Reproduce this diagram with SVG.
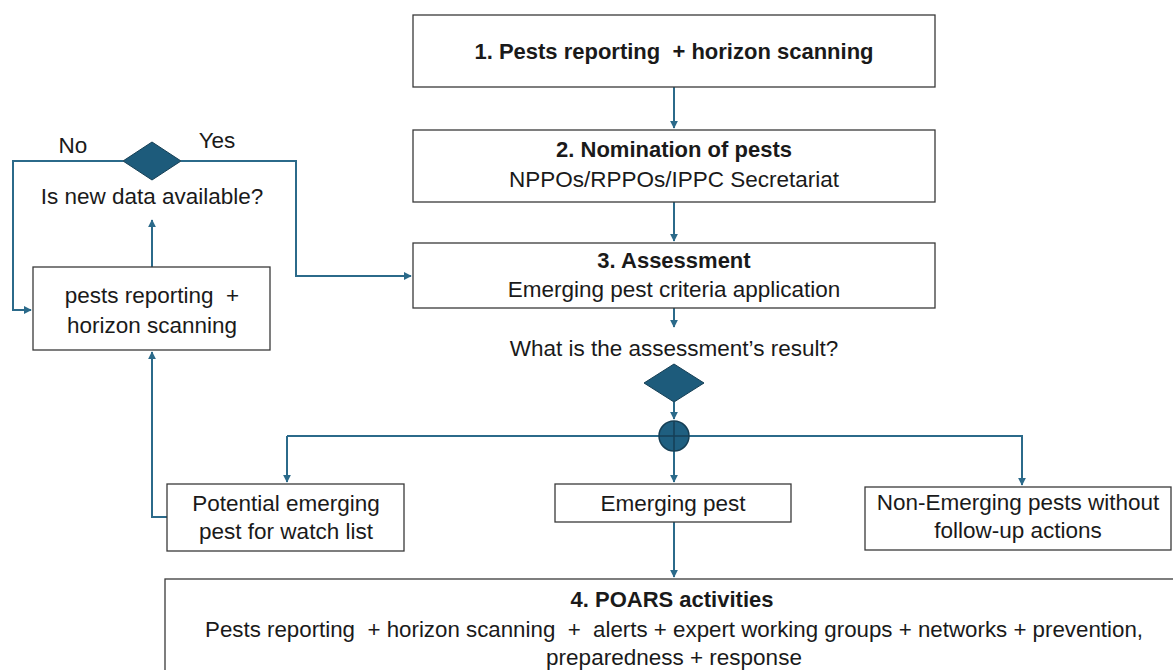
<svg xmlns="http://www.w3.org/2000/svg" width="1173" height="670" viewBox="0 0 1173 670">
<defs>
<marker id="ah" viewBox="0 0 10 10" refX="9" refY="5" markerWidth="4" markerHeight="4" orient="auto" markerUnits="strokeWidth">
<path d="M0,0 L10,5 L0,10 z" fill="#2B6A8A"/>
</marker>
<style>
.box{fill:#fff;stroke:#3a3a3a;stroke-width:1.3}
.t{font-family:"Liberation Sans",Arial,sans-serif;font-size:22.5px;fill:#1a1a1a;text-anchor:middle;white-space:pre}
.b{font-weight:bold;font-size:22px}
.c{fill:none;stroke:#2B6A8A;stroke-width:2}
.a{marker-end:url(#ah)}
.dia{fill:#1D5B7B;stroke:#163F55;stroke-width:1}
</style>
</defs>
<rect width="1173" height="670" fill="#fff"/>
<g id="connectors">
<path class="c a" d="M674,87 V128"/>
<path class="c a" d="M674,202 V241"/>
<path class="c a" d="M674,308 V327"/>
<path class="c a" d="M674,402 V419"/>
<path class="c a" d="M674,451 V482"/>
<path class="c a" d="M287,436 H659 M689,436 H1022 V485"/>
<path class="c a" d="M287,436 V482"/>
<path class="c a" d="M674,522 V577"/>
<path class="c a" d="M152,267 V220"/>
<path class="c a" d="M167,517 H152 V352"/>
<path class="c a" d="M123,161 H13 V310 H31"/>
<path class="c a" d="M181,161 H296 V276 H411"/>
</g>
<g id="n1"><rect class="box" x="413" y="15" width="522" height="72"/><text class="t b" x="674" y="59" xml:space="preserve">1. Pests reporting  + horizon scanning</text></g>
<g id="n2"><rect class="box" x="413" y="130" width="522" height="72"/><text class="t b" x="674" y="157">2. Nomination of pests</text><text class="t" x="674" y="187">NPPOs/RPPOs/IPPC Secretariat</text></g>
<g id="n3"><rect class="box" x="413" y="243" width="522" height="65"/><text class="t b" x="674" y="268">3. Assessment</text><text class="t" x="674" y="297">Emerging pest criteria application</text></g>
<g id="d2"><text class="t" x="674" y="356">What is the assessment’s result?</text><path class="dia" d="M644,383 L674,364 L704,383 L674,402 z"/></g>
<g id="junction"><circle cx="674" cy="436" r="15" fill="#1F5F80" stroke="#163F55" stroke-width="1.5"/><path d="M659,436 H689 M674,421 V451" stroke="#163F55" stroke-width="1.5"/></g>
<g id="d1"><path class="dia" d="M123,161 L152,142 L181,161 L152,180 z"/><text class="t" x="73" y="153">No</text><text class="t" x="217" y="148">Yes</text><text class="t" x="152" y="204">Is new data available?</text></g>
<g id="nleft"><rect class="box" x="33" y="267" width="237" height="83"/><text class="t" x="152" y="303" xml:space="preserve">pests reporting  +</text><text class="t" x="152" y="333">horizon scanning</text></g>
<g id="npot"><rect class="box" x="167" y="484" width="237" height="67"/><text class="t" x="286" y="511">Potential emerging</text><text class="t" x="286" y="539">pest for watch list</text></g>
<g id="nem"><rect class="box" x="555" y="484" width="236" height="38"/><text class="t" x="673" y="511">Emerging pest</text></g>
<g id="nnon"><rect class="box" x="865" y="487" width="306" height="63"/><text class="t" x="1018" y="510">Non-Emerging pests without</text><text class="t" x="1018" y="538">follow-up actions</text></g>
<g id="n4"><rect class="box" x="165" y="579" width="1020" height="100"/><text class="t b" x="672" y="607">4. POARS activities</text><text class="t" x="674" y="637" textLength="938" lengthAdjust="spacingAndGlyphs" xml:space="preserve">Pests reporting  + horizon scanning  +  alerts + expert working groups + networks + prevention,</text><text class="t" x="674" y="665">preparedness + response</text></g>
</svg>
